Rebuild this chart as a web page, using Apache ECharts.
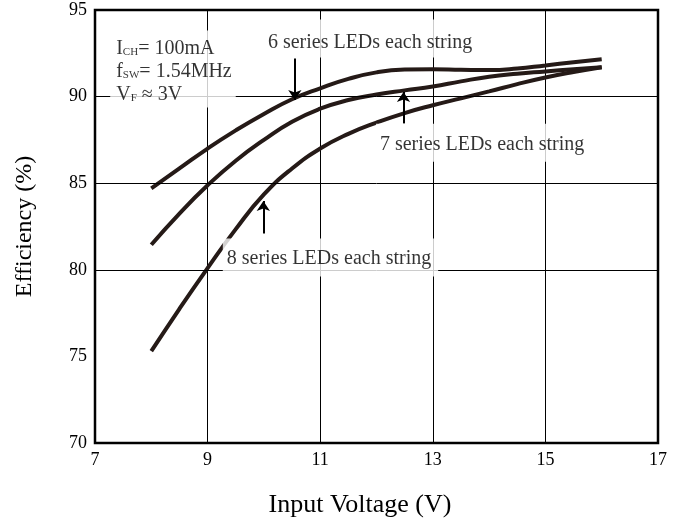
<!DOCTYPE html>
<html><head><meta charset="utf-8">
<script src="https://cdn.jsdelivr.net/npm/echarts@6/dist/echarts.min.js"></script>
<style>html,body{margin:0;padding:0;background:#fff}#c{width:678px;height:527px}</style>
</head><body><div id="c"></div>
<script>
// ---- data ----
const voltage = [8, 8.5, 9, 9.5, 10, 10.5, 11, 11.5, 12, 12.5, 13, 13.5, 14, 14.5, 15, 15.5, 16];
const eff6 = [84.7, 85.85, 87.0, 88.05, 89.0, 89.85, 90.48, 91.02, 91.4, 91.56, 91.58, 91.55, 91.53, 91.62, 91.8, 91.98, 92.15];
const eff7 = [81.45, 83.25, 84.88, 86.3, 87.5, 88.55, 89.3, 89.8, 90.12, 90.36, 90.58, 90.88, 91.15, 91.32, 91.45, 91.58, 91.7];
const eff8 = [75.3, 77.75, 80.1, 82.35, 84.35, 85.85, 87.0, 87.85, 88.5, 89.05, 89.5, 89.9, 90.3, 90.72, 91.1, 91.42, 91.7];
const xTicks = [7, 9, 11, 13, 15, 17];
const yTicks = [70, 75, 80, 85, 90, 95];
const yGridLines = [80, 85, 90];
const xName = 'Input Voltage (V)';
const yName = 'Efficiency (%)';
const noteTexts = [
  '{n|I}{s|CH}{n|= 100mA}\n{n|f}{s|SW}{n|= 1.54MHz}\n{n|V}{s|F}{n| ≈ 3V}',
  '{n|6 series LEDs each string}',
  '{n|7 series LEDs each string}',
  '{n|8 series LEDs each string}'
];
// annotation anchors (data coordinates)
const noteAnchors = [[7.27, 91.6], [10.0, 93.36], [11.99, 87.33], [9.27, 80.71]];
const notePadding = [[7, 4, 1, 6], [12, 4, 3, 4], [9, 4, 6, 4], [9, 7, 6, 4]];
const arrowX = [10.55, 12.48, 9.99];
const arrowFrom = [92.2, 88.44, 82.09];
const arrowTo = [89.8, 90.26, 83.97];

const FONT = 'Liberation Serif';
const INK = '#000';
const CURVE = '#251a17';
const rich = {
  n: {fontSize: 20, fontFamily: FONT, color: INK, lineHeight: 23},
  s: {fontSize: 11, fontFamily: FONT, color: INK, lineHeight: 11, padding: [6, 0, 0, 0]}
};
const pair = ys => voltage.map((v, i) => [v, ys[i]]);
const curve = ys => ({
  type: 'line', data: pair(ys), smooth: true, showSymbol: false, z: 3,
  lineStyle: {color: CURVE, width: 4}, itemStyle: {color: CURVE}
});

const chart = echarts.init(document.getElementById('c'), null, {renderer: 'canvas'});
chart.setOption({
  animation: false,
  backgroundColor: '#fff',
  grid: {left: 95, right: 20, top: 10, bottom: 84, show: true, borderColor: '#000', borderWidth: 2.5},
  xAxis: {
    type: 'value', min: xTicks[0], max: xTicks[xTicks.length - 1], interval: 2,
    axisLine: {show: false}, axisTick: {show: false},
    splitLine: {show: true, lineStyle: {color: '#000', width: 1}},
    axisLabel: {fontSize: 18, fontFamily: FONT, color: INK, margin: 8},
    name: xName, nameLocation: 'middle', nameGap: 49,
    nameTextStyle: {fontSize: 26, fontFamily: FONT, color: INK, padding: [0, 33, 0, 0]}
  },
  yAxis: {
    type: 'value', min: yTicks[0], max: yTicks[yTicks.length - 1], interval: 5,
    axisLine: {show: false}, axisTick: {show: false}, splitLine: {show: false},
    axisLabel: {fontSize: 18, fontFamily: FONT, color: INK, margin: 8},
    name: yName, nameLocation: 'middle', nameGap: 58,
    nameTextStyle: {fontSize: 24, fontFamily: FONT, color: INK}
  },
  series: [
    {
      type: 'line', data: [], z: 1,
      markLine: {
        silent: true, symbol: 'none', animation: false,
        label: {show: false},
        lineStyle: {color: '#000', width: 1, type: 'solid'},
        data: yGridLines.map(v => ({yAxis: v}))
      }
    },
    curve(eff6), curve(eff7), curve(eff8),
    {
      type: 'lines', coordinateSystem: 'cartesian2d', z: 4,
      symbol: ['none', 'arrow'], symbolSize: [0, 10],
      lineStyle: {color: '#000', width: 2, opacity: 1, curveness: 0},
      data: arrowX.map((x, i) => ({coords: [[x, arrowFrom[i]], [x, arrowTo[i]]]}))
    },
    {
      type: 'scatter', z: 10, symbolSize: 0, silent: true,
      data: noteAnchors.map((c, i) => ({
        value: c,
        label: {
          show: true, position: 'right', distance: 0,
          formatter: noteTexts[i], rich: rich,
          backgroundColor: '#fff', padding: notePadding[i], align: 'left'
        }
      }))
    }
  ]
});
</script></body></html>
